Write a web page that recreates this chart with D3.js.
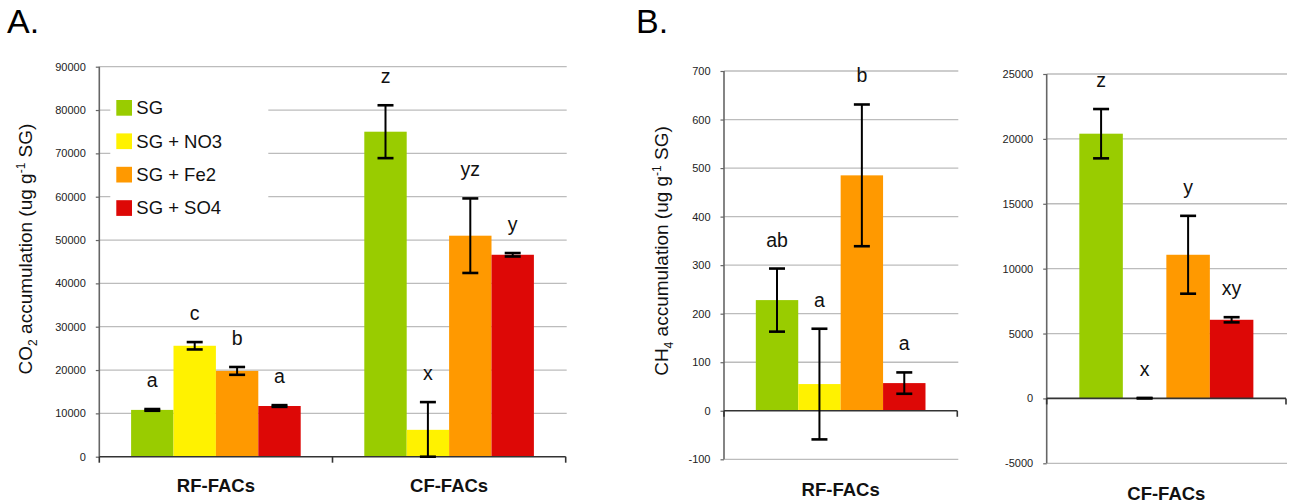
<!DOCTYPE html>
<html><head><meta charset="utf-8">
<script src="https://cdn.jsdelivr.net/npm/d3@7/dist/d3.min.js"></script>
<style>
body{margin:0;background:#fff;}
text{font-family:"Liberation Sans",Arial,Helvetica,sans-serif;}
</style></head>
<body><svg id="c" width="1291" height="503"></svg>
<script>
// ---- data ----
const series = ["SG", "SG + NO3", "SG + Fe2", "SG + SO4"];
const co2Categories = ["RF-FACs", "CF-FACs"];
const co2RF = [10800, 25600, 19800, 11700];
const co2RFErr = [200, 850, 900, 200];
const co2RFLetters = ["a", "c", "b", "a"];
const co2CF = [75000, 6200, 51000, 46600];
const co2CFErr = [6100, 6400, 8600, 400];
const co2CFLetters = ["z", "x", "yz", "y"];
const co2Ticks = [0, 10000, 20000, 30000, 40000, 50000, 60000, 70000, 80000, 90000];

const ch4RF = [228, 55, 485, 57];
const ch4RFErr = [65, 114, 146, 22];
const ch4RFLetters = ["ab", "a", "b", "a"];
const ch4RFTicks = [-100, 0, 100, 200, 300, 400, 500, 600, 700];

const ch4CF = [20400, 20, 11070, 6060];
const ch4CFErr = [1900, 20, 3000, 200];
const ch4CFLetters = ["z", "x", "y", "xy"];
const ch4CFTicks = [-5000, 0, 5000, 10000, 15000, 20000, 25000];

// ---- styles ----
const colors = ["#99cc00", "#fff200", "#ff9900", "#dd0806"];
const svg = d3.select("#c");

function panel(cfg) {
  const g = svg.append("g");
  const x = d3.scaleBand().domain(cfg.cats).range([cfg.x0, cfg.x1]).padding(0);
  const xs = d3.scaleBand().domain(series).range([0, x.bandwidth()]).paddingInner(0).paddingOuter(0.75);
  const lo = d3.min(cfg.ticks), hi = d3.max(cfg.ticks);
  const y = d3.scaleLinear().domain([lo, hi]).range([cfg.y1, cfg.y0]);

  // gridlines
  g.selectAll("line.grid").data(cfg.ticks.filter(t => t !== 0)).join("line")
    .attr("x1", cfg.x0).attr("x2", cfg.x1 + 1)
    .attr("y1", d => y(d)).attr("y2", d => y(d))
    .attr("stroke", "#bcbcbc").attr("stroke-width", 1.3);

  // legend (covers gridlines)
  if (cfg.legend) {
    const L = g.append("g");
    L.append("rect").attr("x", cfg.x0 + 11).attr("y", cfg.y0 + 14).attr("width", 158).attr("height", 152).attr("fill", "#fff");
    series.forEach((s, i) => {
      const cy = cfg.y0 + 41.1 + i * 33.4;
      L.append("rect").attr("x", cfg.x0 + 17).attr("y", cy - 7.8).attr("width", 15.7).attr("height", 15.7).attr("fill", colors[i]);
      L.append("text").attr("x", cfg.x0 + 37).attr("y", cy + 6.4).attr("font-size", 18.5).attr("fill", "#111").text(s);
    });
  }

  // bars
  cfg.cats.forEach((c, ci) => {
    const vals = cfg.values[ci];
    series.forEach((s, si) => {
      const bx = x(c) + xs(s), bw = xs.bandwidth();
      const v = vals[si];
      g.append("rect").attr("x", bx).attr("width", bw)
        .attr("y", y(Math.max(0, v))).attr("height", Math.abs(y(v) - y(0)))
        .attr("fill", colors[si]);
    });
  });

  // axes
  const ya = d3.axisLeft(y).tickValues(cfg.ticks).tickSize(3.5).tickPadding(10).tickFormat(d => String(d));
  const yg = g.append("g").attr("transform", `translate(${cfg.x0},0)`).call(ya);
  yg.select(".domain").attr("stroke", "#666").attr("stroke-width", 1.6).attr("d", `M0,${cfg.y0}V${cfg.y1}`);
  yg.selectAll(".tick line").attr("stroke", "#666").attr("stroke-width", 1.2);
  yg.selectAll(".tick text").attr("font-size", 11).attr("fill", "#222").attr("font-family", "Liberation Sans, Arial, sans-serif");

  // zero axis
  g.append("line").attr("x1", cfg.x0).attr("x2", cfg.x1).attr("y1", y(0)).attr("y2", y(0))
    .attr("stroke", "#333").attr("stroke-width", 1.6);
  const bounds = x.domain().map(c => x(c)).concat([cfg.x1]);
  g.selectAll("line.ct").data(bounds).join("line")
    .attr("x1", d => d).attr("x2", d => d).attr("y1", y(0)).attr("y2", y(0) + 6)
    .attr("stroke", "#333").attr("stroke-width", 1.6);

  // error bars + letters
  cfg.cats.forEach((c, ci) => {
    const vals = cfg.values[ci], errs = cfg.errs[ci], lets = cfg.letters[ci];
    series.forEach((s, si) => {
      const cx = x(c) + xs(s) + xs.bandwidth() / 2;
      const v = vals[si], e = errs[si];
      const top = y(Math.min(hi, v + e)), bot = y(Math.max(lo, v - e));
      const eg = g.append("g").attr("stroke", "#000").attr("stroke-width", 2);
      eg.append("line").attr("x1", cx).attr("x2", cx).attr("y1", top).attr("y2", bot);
      eg.append("line").attr("x1", cx - 8).attr("x2", cx + 8).attr("y1", top).attr("y2", top).attr("stroke-width", 2.6);
      eg.append("line").attr("x1", cx - 8).attr("x2", cx + 8).attr("y1", bot).attr("y2", bot).attr("stroke-width", 2.6);
      g.append("text").attr("x", cx).attr("y", top - 22).attr("text-anchor", "middle")
        .attr("font-size", 19.5).attr("fill", "#111").text(lets[si]);
    });
    g.append("text").attr("x", x(c) + x.bandwidth() / 2).attr("y", cfg.xlabelY)
      .attr("text-anchor", "middle").attr("font-size", 18.5).attr("font-weight", "bold").attr("fill", "#111").text(c);
  });

  // y title
  if (cfg.ytitle) {
    const t = g.append("text").attr("transform", `translate(${cfg.ytitle.x},${cfg.ytitle.y}) rotate(-90)`)
      .attr("text-anchor", "middle").attr("font-size", 19).attr("fill", "#111");
    t.append("tspan").text(cfg.ytitle.chem);
    t.append("tspan").attr("font-size", 12).attr("dy", 5).text(cfg.ytitle.sub);
    t.append("tspan").attr("dy", -5).text(" accumulation (ug g");
    t.append("tspan").attr("font-size", 12).attr("dy", -7).text("-1");
    t.append("tspan").attr("dy", 7).text(" SG)");
  }
}

panel({
  x0: 99.3, x1: 565.7, y0: 66.7, y1: 456.7, ticks: co2Ticks, cats: co2Categories,
  values: [co2RF, co2CF], errs: [co2RFErr, co2CFErr], letters: [co2RFLetters, co2CFLetters],
  xlabelY: 491.7, legend: true, ytitle: { x: 32, y: 249, chem: "CO", sub: "2" }
});
panel({
  x0: 724, x1: 957.3, y0: 71, y1: 459.3, ticks: ch4RFTicks, cats: ["RF-FACs"],
  values: [ch4RF], errs: [ch4RFErr], letters: [ch4RFLetters],
  xlabelY: 496, ytitle: { x: 668, y: 251, chem: "CH", sub: "4" }
});
panel({
  x0: 1046.7, x1: 1286, y0: 74, y1: 463.3, ticks: ch4CFTicks, cats: ["CF-FACs"],
  values: [ch4CF], errs: [ch4CFErr], letters: [ch4CFLetters],
  xlabelY: 500
});

svg.append("text").attr("x", 7).attr("y", 33.3).attr("font-size", 34).attr("fill", "#000").text("A.");
svg.append("text").attr("x", 636).attr("y", 33.3).attr("font-size", 34).attr("fill", "#000").text("B.");
</script></body></html>
